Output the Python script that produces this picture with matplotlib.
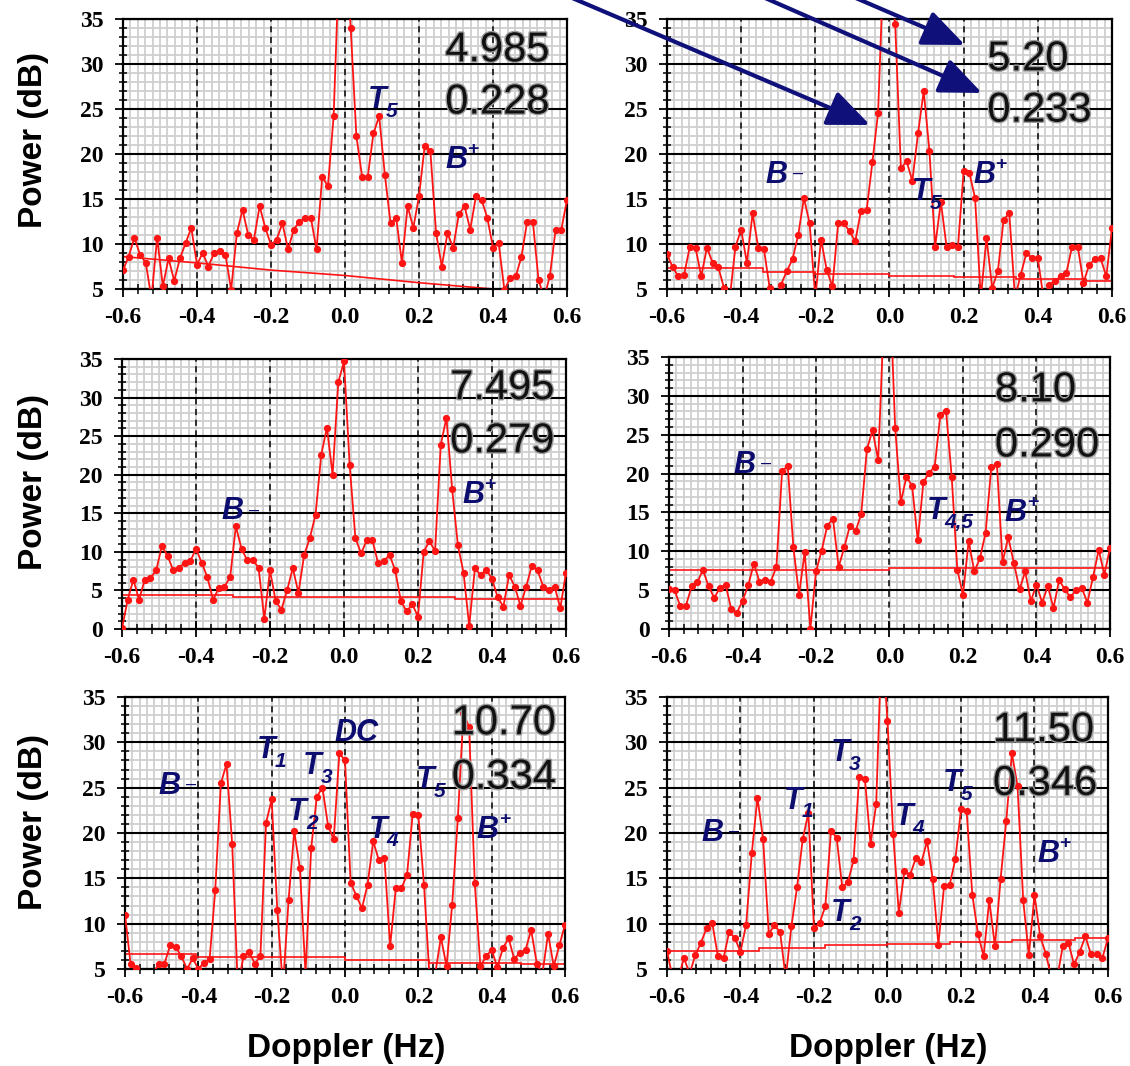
import matplotlib
matplotlib.use('Agg')
import matplotlib.pyplot as plt
import matplotlib.patheffects as pe
import numpy as np

plt.rcParams['axes.unicode_minus'] = False

# Doppler bins shared by all six spectra
freq = np.linspace(-0.6, 0.6, 79)

# power spectra (dB)
p1 = [7.1, 8.6, 10.7, 8.8, 7.9, 4.0, 10.7, 5.3, 8.4, 5.9,
      8.4, 10.1, 11.8, 7.7, 9.0, 7.5, 9.0, 9.2, 8.8, 4.9,
      11.2, 13.8, 11.0, 10.5, 14.2, 11.8, 9.9, 10.5, 12.3, 9.4,
      11.6, 12.5, 12.9, 12.9, 9.4, 17.5, 16.4, 24.2, 42, 45,
      34.0, 22.0, 17.5, 17.5, 22.3, 24.2, 17.7, 12.3, 12.9, 7.9,
      14.2, 11.8, 15.3, 20.9, 20.3, 11.2, 7.5, 11.2, 9.6, 13.3,
      14.2, 11.6, 15.3, 14.9, 12.9, 9.6, 10.1, 4.9, 6.2, 6.4,
      8.6, 12.5, 12.5, 6.0, 4.0, 6.5, 11.6, 11.6, 14.9]
p2 = [8.9, 7.4, 6.4, 6.6, 9.7, 9.6, 6.4, 9.6, 7.9, 7.4,
      5.1, 4.0, 9.7, 11.6, 7.9, 13.4, 9.6, 9.4, 5.1, 4.0,
      5.5, 7.0, 8.3, 11.0, 15.1, 12.3, 4.0, 10.5, 7.1, 5.3,
      12.3, 12.3, 11.4, 10.3, 13.7, 13.8, 19.1, 24.6, 42, 40,
      34.4, 18.4, 19.2, 17.0, 22.3, 27.0, 20.3, 9.7, 14.7, 9.7,
      9.9, 9.7, 18.1, 17.9, 15.1, 4.0, 10.7, 5.1, 7.0, 12.7,
      13.4, 4.0, 6.6, 9.0, 8.4, 8.4, 4.0, 5.5, 5.9, 6.4,
      6.8, 9.7, 9.7, 5.7, 7.7, 8.3, 8.4, 6.4, 11.8]
p3 = [0.1, 3.8, 6.4, 3.8, 6.4, 6.6, 7.6, 10.7, 9.5, 7.6,
      7.9, 8.6, 8.8, 10.4, 8.6, 6.7, 3.8, 5.3, 5.5, 6.7,
      13.3, 10.4, 8.9, 9.0, 7.9, 1.3, 7.6, 3.6, 2.5, 5.0,
      7.9, 4.7, 9.6, 11.8, 14.8, 22.6, 26.1, 20.0, 32.0, 34.7,
      21.2, 11.8, 9.8, 11.5, 11.5, 8.5, 8.8, 9.6, 7.6, 3.6,
      2.3, 3.2, 1.6, 10.0, 11.4, 10.1, 23.9, 27.4, 18.1, 10.9,
      7.3, 0.4, 7.9, 7.0, 7.7, 6.5, 4.1, 2.9, 7.0, 5.5,
      3.0, 5.5, 8.2, 7.6, 5.5, 5.1, 5.5, 2.7, 7.3]
p4 = [5.1, 5.0, 2.9, 3.0, 5.5, 6.0, 7.6, 5.5, 4.0, 5.3,
      5.7, 2.6, 2.1, 3.6, 5.6, 8.4, 6.1, 6.3, 6.1, 8.0,
      20.3, 21.0, 10.5, 4.4, 9.9, 0.0, 7.4, 10.1, 13.3, 14.2,
      8.0, 10.5, 13.3, 12.6, 14.8, 23.1, 25.6, 21.7, 40, 45,
      25.9, 16.3, 19.6, 18.4, 11.4, 18.9, 20.1, 20.9, 27.6, 28.1,
      19.6, 7.6, 4.4, 11.3, 7.4, 9.1, 12.4, 20.8, 21.2, 8.6,
      11.8, 8.5, 5.1, 7.4, 3.6, 5.7, 3.4, 5.5, 2.7, 6.3,
      5.1, 4.1, 5.0, 5.3, 3.4, 6.7, 10.2, 7.0, 10.4]
p5 = [11.0, 5.5, 5.1, 4.0, 4.0, 4.5, 5.6, 5.6, 7.6, 7.4,
      6.4, 5.0, 6.2, 5.0, 5.7, 6.1, 13.7, 25.5, 27.6, 18.8,
      3.0, 6.4, 6.9, 5.6, 6.4, 21.1, 23.7, 11.5, 3.0, 12.6,
      20.2, 16.1, 4.5, 18.3, 24.0, 25.0, 20.8, 19.3, 28.8, 28.0,
      14.5, 13.1, 11.7, 14.3, 19.1, 17.0, 17.2, 7.5, 13.9, 13.9,
      15.4, 22.1, 22.0, 14.3, 4.0, 4.5, 8.5, 5.3, 12.1, 21.6,
      33.2, 31.7, 14.5, 5.3, 6.4, 7.1, 5.2, 7.3, 8.4, 6.1,
      6.8, 7.1, 9.3, 5.6, 4.5, 8.9, 5.3, 7.6, 9.9]
p6 = [7.0, 4.0, 4.0, 6.2, 4.5, 6.5, 7.9, 9.5, 10.1, 6.4,
      6.2, 9.1, 8.4, 6.9, 9.9, 17.8, 23.9, 19.3, 8.9, 9.8,
      9.1, 4.0, 9.7, 14.0, 19.3, 22.2, 9.5, 10.1, 11.9, 20.2,
      19.5, 14.0, 14.6, 17.0, 26.2, 26.0, 18.8, 23.2, 42, 32.3,
      19.9, 11.2, 15.8, 15.4, 17.2, 16.8, 19.1, 14.9, 7.7, 14.1,
      14.3, 17.1, 22.6, 22.4, 13.2, 8.9, 6.4, 12.6, 7.5, 14.9,
      21.3, 28.8, 25.2, 12.6, 6.5, 13.2, 8.6, 6.7, 4.0, 4.0,
      7.5, 7.9, 5.5, 6.9, 8.6, 6.6, 6.6, 6.2, 8.4]

# noise floor (dB): edges of each step and level
f1_x = [-0.6, -0.4, -0.2, 0.0, 0.2, 0.4, 0.6]
f1_y = [8.6, 7.9, 7.1, 6.5, 5.7, 5.0, 4.3]
f2_edges = [-0.6, -0.34, -0.2, 0.0, 0.175, 0.34, 0.53, 0.6]
f2_lev = [7.3, 6.9, 6.7, 6.5, 6.3, 6.1, 5.85]
f3_edges = [-0.6, -0.3, 0.3, 0.6]
f3_lev = [4.45, 4.15, 3.9]
f4_edges = [-0.6, 0.0, 0.6]
f4_lev = [7.6, 7.85]
f5_edges = [-0.6, -0.405, 0.0, 0.23, 0.48, 0.6]
f5_lev = [6.7, 6.3, 6.0, 5.7, 5.6]
f6_edges = [-0.6, -0.35, -0.17, 0.0, 0.17, 0.34, 0.51, 0.6]
f6_lev = [6.95, 7.3, 7.6, 7.8, 7.95, 8.2, 8.4]

top_nums = ['4.985', '5.20', '7.495', '8.10', '10.70', '11.50']
low_nums = ['0.228', '0.233', '0.279', '0.290', '0.334', '0.346']

xtick_labels = ['-0.6', '-0.4', '-0.2', '0.0', '0.2', '0.4', '0.6']

NAVY = '#0d0d70'
RED = '#ff1414'

fig = plt.figure(figsize=(11.3, 10.66), dpi=100)
W, H = 1130.0, 1066.0

def box(l, r, t, b):
    return [l / W, 1 - b / H, (r - l) / W, (b - t) / H]

boxes = [box(123, 567, 19, 289), box(667, 1112, 19, 289),
         box(122, 566, 359, 629), box(669, 1110, 357, 629),
         box(125, 565, 697, 969), box(667, 1108, 697, 969)]
ylows = [5, 5, 0, 0, 5, 5]
series = [p1, p2, p3, p4, p5, p6]


def style(ax, ylo):
    ax.set_xlim(-0.6, 0.6)
    ax.set_ylim(ylo, 35)
    for xv in np.arange(-0.58, 0.59, 0.02):
        ax.axvline(xv, color='#cfcfcf', lw=1.3, zorder=0)
    for yv in range(ylo + 1, 35):
        ax.axhline(yv, color='#cfcfcf', lw=1.3, zorder=0)
    ax.set_xticks(np.arange(-0.6, 0.61, 0.2))
    ax.set_xticks(np.arange(-0.6, 0.61, 0.04), minor=True)
    yt = list(range(ylo, 36, 5))
    ax.set_yticks(yt)
    ax.set_yticks(range(ylo, 36, 1), minor=True)
    ax.set_xticklabels(xtick_labels, fontsize=17, fontweight='bold',
                       family='Liberation Serif')
    ax.set_yticklabels([str(v) for v in yt], fontsize=17, fontweight='bold',
                       family='Liberation Serif')
    ax.grid(which='major', axis='x', color='k', ls=(0, (4, 3)), lw=1.1)
    ax.grid(which='major', axis='y', color='k', lw=1.5)
    ax.set_axisbelow(True)
    ax.tick_params(axis='x', which='major', direction='inout', length=12,
                   width=1.3, pad=7)
    ax.tick_params(axis='x', which='minor', direction='inout', length=7,
                   width=1.1)
    ax.tick_params(axis='y', which='major', direction='out', length=6,
                   width=1.3, pad=8)
    ax.tick_params(axis='y', which='minor', direction='inout', length=6,
                   width=1.1)
    for s in ax.spines.values():
        s.set_linewidth(1.6)


def tag(ax, x, y, main, sub=None, sup=None, minus=False):
    t = ax.text(x, y, main, fontsize=22, fontweight='bold', fontstyle='italic',
                color=NAVY, family='Liberation Sans', va='baseline', zorder=5)
    if sub:
        ax.annotate(sub, xy=(0.95, 0.12), xycoords=t, fontsize=15,
                    fontweight='bold', fontstyle='italic', color=NAVY,
                    family='Liberation Sans', va='center', ha='left')
    if sup:
        ax.annotate(sup, xy=(1.0, 0.85), xycoords=t, fontsize=14,
                    fontweight='bold', color=NAVY,
                    family='Liberation Sans', va='center', ha='left')
    if minus:
        ax.annotate('\u2013', xy=(1.0, 0.55), xycoords=t, xytext=(4, 0),
                    textcoords='offset points', fontsize=13, color=NAVY,
                    family='Liberation Sans', va='center', ha='left')


num_x = [0.271, 0.264, 0.287, 0.287, 0.291, 0.287]
num_y = [(30.3, 24.5), (29.3, 23.6), (29.8, 22.9), (29.3, 22.2),
         (30.9, 24.9), (30.1, 24.2)]

axes = []
for k in range(6):
    ax = fig.add_axes(boxes[k])
    style(ax, ylows[k])
    ax.plot(freq, series[k], color=RED, lw=1.3, marker='o', ms=4.2, zorder=3)
    for j, s in enumerate((top_nums[k], low_nums[k])):
        ax.text(num_x[k], num_y[k][j], s, fontsize=30, color='#111111',
                family='Liberation Sans', va='baseline', ha='left', zorder=6,
                path_effects=[pe.withStroke(linewidth=2.0,
                                            foreground='#9c9c9c')])
    axes.append(ax)

axes[0].plot(f1_x, f1_y, color=RED, lw=1.2, zorder=2)
axes[1].stairs(f2_lev, f2_edges, color=RED, lw=1.2, baseline=None, zorder=2)
axes[2].stairs(f3_lev, f3_edges, color=RED, lw=1.2, baseline=None, zorder=2)
axes[3].stairs(f4_lev, f4_edges, color=RED, lw=1.2, baseline=None, zorder=2)
axes[4].stairs(f5_lev, f5_edges, color=RED, lw=1.2, baseline=None, zorder=2)
axes[5].stairs(f6_lev, f6_edges, color=RED, lw=1.2, baseline=None, zorder=2)

# labels on the peaks
tag(axes[0], 0.063, 25.1, 'T', sub='5')
tag(axes[0], 0.271, 18.4, 'B', sup='+')
tag(axes[1], -0.334, 16.8, 'B', minus=True)
tag(axes[1], 0.06, 14.9, 'T', sub='5')
tag(axes[1], 0.226, 16.8, 'B', sup='+')
tag(axes[2], -0.330, 14.2, 'B', minus=True)
tag(axes[2], 0.319, 16.3, 'B', sup='+')
tag(axes[3], -0.424, 20.1, 'B', minus=True)
tag(axes[3], 0.101, 14.1, 'T', sub='4,5')
tag(axes[3], 0.314, 13.9, 'B', sup='+')
tag(axes[4], -0.509, 24.3, 'B', minus=True)
tag(axes[4], -0.241, 28.3, 'T', sub='1')
tag(axes[4], -0.114, 26.5, 'T', sub='3')
tag(axes[4], -0.030, 30.2, 'DC')
tag(axes[4], -0.155, 21.4, 'T', sub='2')
tag(axes[4], 0.064, 19.5, 'T', sub='4')
tag(axes[4], 0.194, 25.0, 'T', sub='5')
tag(axes[4], 0.359, 19.5, 'B', sup='+')
tag(axes[5], -0.507, 19.1, 'B', minus=True)
tag(axes[5], -0.283, 22.7, 'T', sub='1')
tag(axes[5], -0.153, 27.9, 'T', sub='3')
tag(axes[5], -0.153, 10.3, 'T', sub='2')
tag(axes[5], 0.020, 20.9, 'T', sub='4')
tag(axes[5], 0.151, 24.6, 'T', sub='5')
tag(axes[5], 0.407, 16.8, 'B', sup='+')

# axis titles
for yc in (140, 482, 822):
    fig.text(34 / W, 1 - yc / H, 'Power (dB)', rotation=90, fontsize=24,
             fontweight='bold', family='Liberation Sans', ha='center',
             va='center')
for xc in (346, 888):
    fig.text(xc / W, 9 / H, 'Doppler (Hz)', fontsize=24, fontweight='bold',
             family='Liberation Sans', ha='center', va='baseline')

# navy arrows coming from above
arrow_props = dict(arrowstyle='-|>,head_length=1.3,head_width=0.55',
                   mutation_scale=20, lw=3.0, color='#10107a',
                   shrinkA=0, shrinkB=0)
for start, tip in (((530, 1086), (870, 941)),
                   ((724, 1086), (982, 973)),
                   ((814, 1086), (965, 1021))):
    axes[1].annotate('', xy=tip, xycoords='figure pixels', xytext=start,
                     textcoords='figure pixels', arrowprops=arrow_props,
                     annotation_clip=False)

fig.savefig('out.png', dpi=100)
